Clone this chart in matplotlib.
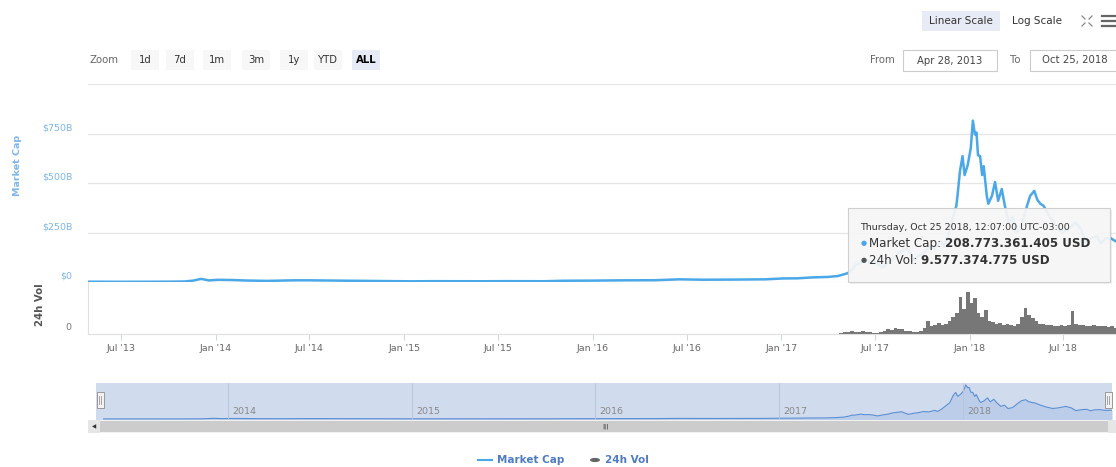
import numpy as np
import pandas as pd
import matplotlib
matplotlib.use('Agg')
import matplotlib.pyplot as plt
import matplotlib.dates as mdates
import matplotlib.transforms as mtransforms
from matplotlib.patches import Rectangle, Circle
from matplotlib.lines import Line2D

plt.rcParams['font.family'] = ['DejaVu Sans']

W, H = 1116, 467

# total crypto market cap, billions of USD
cap_dates = ['2013-04-28', '2013-06-01', '2013-07-05', '2013-08-15', '2013-10-01',
             '2013-11-01', '2013-11-18', '2013-11-30', '2013-12-04', '2013-12-18',
             '2014-01-05', '2014-02-01', '2014-03-01', '2014-04-10', '2014-06-01',
             '2014-07-01', '2014-09-01', '2014-11-01', '2015-01-14', '2015-03-01',
             '2015-06-01', '2015-07-15', '2015-10-01', '2015-11-05', '2016-01-01',
             '2016-03-01', '2016-05-01', '2016-06-17', '2016-08-01', '2016-10-01',
             '2016-12-01', '2017-01-05', '2017-02-01', '2017-03-01', '2017-04-01',
             '2017-04-20', '2017-05-01', '2017-05-10', '2017-05-20', '2017-05-25',
             '2017-06-01', '2017-06-12', '2017-06-20', '2017-07-01', '2017-07-16',
             '2017-07-25', '2017-08-05', '2017-08-15', '2017-09-01', '2017-09-15',
             '2017-09-25', '2017-10-05', '2017-10-15', '2017-10-25', '2017-11-07',
             '2017-11-12', '2017-11-20', '2017-11-29', '2017-12-01', '2017-12-06',
             '2017-12-08', '2017-12-13', '2017-12-18', '2017-12-22', '2017-12-28',
             '2018-01-03', '2018-01-07', '2018-01-11', '2018-01-14', '2018-01-17',
             '2018-01-21', '2018-01-25', '2018-01-28', '2018-02-03', '2018-02-06',
             '2018-02-13', '2018-02-19', '2018-02-25', '2018-03-04', '2018-03-10',
             '2018-03-18', '2018-03-25', '2018-04-01', '2018-04-10', '2018-04-22',
             '2018-04-28', '2018-05-06', '2018-05-12', '2018-05-18', '2018-05-24',
             '2018-06-05', '2018-06-15', '2018-06-29', '2018-07-10', '2018-07-25',
             '2018-08-05', '2018-08-14', '2018-08-27', '2018-09-05', '2018-09-12',
             '2018-09-21', '2018-10-01', '2018-10-11', '2018-10-25']
cap_values = [1.6, 1.3, 1.1, 1.3, 1.7,
              2.6, 7, 14, 15.5, 8,
              11, 10, 7.5, 5.5, 8.5,
              8.5, 6.8, 5.3, 3.5, 4.2,
              3.7, 4.3, 3.9, 6.3, 7.0,
              8.4, 9.0, 13.5, 11.5, 12.2,
              13.5, 18, 18.5, 23, 25.5,
              30, 38, 45, 68, 90,
              92, 115, 102, 104, 72,
              95, 115, 145, 172, 110,
              135, 150, 178, 168, 205,
              178, 235, 320, 340, 385,
              430, 560, 636, 540, 590,
              677, 815, 745, 755, 640,
              636, 540, 585, 435, 395,
              435, 505, 410, 470, 385,
              300, 330, 250, 270, 385,
              435, 460, 415, 395, 385,
              330, 290, 250, 265, 300,
              265, 200, 225, 230, 195,
              220, 222, 205, 208.773361405]

# 24h volume, billions of USD, one value per week (Thursdays)
vol_start, vol_end = '2017-04-27', '2018-10-25'
vol_values = [2.5, 3, 3.5, 5, 4, 3.5, 4.5, 4, 3, 2.5,
              2.5, 4, 5, 8, 7, 10, 9, 8, 5, 4.5,
              4, 4, 5, 10, 22, 14, 15, 19, 16, 18,
              22, 30, 36, 64, 43, 73, 53, 62, 36, 30,
              42, 22, 20, 17, 19, 16, 17, 15, 14, 18,
              30, 45, 33, 28, 22, 18, 17, 16, 15, 14,
              14, 15, 14, 16, 40, 18, 15, 16, 13, 14,
              15, 14, 13, 14, 12, 13, 11, 10, 9.577374775]

x_tick_dates = ['2013-07-01', '2014-01-01', '2014-07-01', '2015-01-01', '2015-07-01',
                '2016-01-01', '2016-07-01', '2017-01-01', '2017-07-01', '2018-01-01',
                '2018-07-01']
x_tick_labels = ["Jul '13", "Jan '14", "Jul '14", "Jan '15", "Jul '15", "Jan '16",
                 "Jul '16", "Jan '17", "Jul '17", "Jan '18", "Jul '18"]
cap_ticks = [0, 250, 500, 750]
cap_tick_labels = ['$0', '$250B', '$500B', '$750B']
nav_years = ['2014', '2015', '2016', '2017', '2018']
zoom_buttons = ['1d', '7d', '1m', '3m', '1y', 'YTD', 'ALL']
zoom_centers = [145, 180, 217, 256, 294, 328, 366]

BLUE = '#4aa8e8'
LABEL_BLUE = '#7cb5ec'


def fx(x):
    return x / W


def fy(y):
    return 1 - y / H


def box(x0, y0, x1, y1):
    return [fx(x0), fy(y1), fx(x1) - fx(x0), fy(y0) - fy(y1)]


def rect(x0, y0, x1, y1, **kw):
    r = Rectangle((fx(x0), fy(y1)), fx(x1) - fx(x0), fy(y0) - fy(y1),
                  transform=fig.transFigure, **kw)
    fig.add_artist(r)
    return r


def text(x, y, s, **kw):
    kw.setdefault('ha', 'center')
    kw.setdefault('va', 'center')
    return fig.text(fx(x), fy(y), s, **kw)


cap_x = mdates.date2num(pd.to_datetime(cap_dates))
vol_x = mdates.date2num(pd.date_range(vol_start, vol_end, freq='7D'))
t0 = mdates.date2num(pd.Timestamp('2013-04-28'))
t1 = mdates.date2num(pd.Timestamp('2018-10-25'))

fig = plt.figure(figsize=(W / 100, H / 100), dpi=100)
fig.patch.set_facecolor('white')

# --- market cap panel ---
ax = fig.add_axes(box(88, 84, 1123, 282))
ax.plot(cap_x, cap_values, color=BLUE, lw=1.8, solid_joinstyle='round', zorder=3)
ax.set_xlim(t0, t1)
ax.set_ylim(0, 1000)
ax.set_yticks([0, 250, 500, 750, 1000])
ax.grid(axis='y', color='#e6e6e6', lw=0.9)
ax.tick_params(left=False, bottom=False, labelleft=False, labelbottom=False)
for s in ax.spines.values():
    s.set_visible(False)
ylab = mtransforms.blended_transform_factory(ax.transAxes, ax.transData)
for v, lab in zip(cap_ticks, cap_tick_labels):
    ax.annotate(lab, xy=(0, v), xycoords=ylab, xytext=(-11, 4), textcoords='offset points',
                ha='right', va='center', fontsize=6.8, color=LABEL_BLUE, annotation_clip=False)
text(17, 165, 'Market Cap', rotation=90, fontsize=6.8, color=LABEL_BLUE, fontweight='bold')

# --- volume panel ---
axv = fig.add_axes(box(88, 282, 1123, 334))
axv.bar(vol_x, vol_values, width=7, color='#777777', lw=0)
axv.set_xlim(t0, t1)
axv.set_ylim(0, 90)
axv.set_yticks([])
axv.set_facecolor('none')
for k, s in axv.spines.items():
    s.set_visible(k in ('left', 'bottom'))
    s.set_color('#e0e0e0')
    s.set_linewidth(0.8)
axv.set_xticks(mdates.date2num(pd.to_datetime(x_tick_dates)))
axv.set_xticklabels(x_tick_labels)
axv.tick_params(axis='x', length=4.5, width=0.7, color='#ccd6eb', labelsize=6.8,
                labelcolor='#666666', pad=3)
text(68, 328, '0', fontsize=6.8, color='#777777')
text(40, 305, '24h Vol', rotation=90, fontsize=7.3, color='#555555', fontweight='bold')

# --- navigator ---
axn = fig.add_axes(box(96, 383, 1112, 420))
axn.set_facecolor('#d1dbee')
axn.fill_between(cap_x, cap_values, -30, color='#bccde9', lw=0)
axn.plot(cap_x, cap_values, color='#5b8fd2', lw=0.8)
axn.set_xlim(t0 - 15, t1)
axn.set_ylim(-25, 860)
axn.set_xticks([])
axn.set_yticks([])
for s in axn.spines.values():
    s.set_visible(False)
for yr in nav_years:
    xd = mdates.date2num(pd.Timestamp(yr + '-01-01'))
    axn.axvline(xd, color='#bac4da', lw=0.7)
    axn.annotate(yr, xy=(xd, 0.22), xycoords=('data', 'axes fraction'), xytext=(3, 0),
                 textcoords='offset points', ha='left', va='center', fontsize=6.8,
                 color='#888888')

# navigator handles
for hx in (100, 1108):
    rect(hx - 3.5, 392, hx + 3.5, 408, facecolor='#f2f2f2', edgecolor='#999999', lw=0.7, zorder=6)
    for dx in (-1, 1):
        fig.add_artist(Line2D([fx(hx + dx)] * 2, [fy(396), fy(404)], transform=fig.transFigure,
                              color='#999999', lw=0.6, zorder=7))

# scrollbar
rect(88, 420, 1116, 433, facecolor='#f2f2f2', lw=0, zorder=5)
rect(100, 421, 1108, 432, facecolor='#cccccc', lw=0, zorder=5)
rect(88, 420, 100, 433, facecolor='#e6e6e6', lw=0, zorder=5)
rect(1108, 420, 1116, 433, facecolor='#e6e6e6', lw=0, zorder=5)
text(94, 426.5, '\u25c0', fontsize=4, color='#333333', zorder=6)
text(605, 426.5, '|||', fontsize=4.5, color='#333333', zorder=6)

# --- legend ---
fig.add_artist(Line2D([fx(478), fx(492)], [fy(460)] * 2, transform=fig.transFigure,
                      color=BLUE, lw=1.5))
text(497, 460, 'Market Cap', ha='left', fontsize=7.5, color='#4f7cc0', fontweight='bold')
fig.add_artist(Circle((fx(595), fy(460)), 5 / W, transform=fig.transFigure,
                      facecolor='#666666', lw=0))
text(605, 460, '24h Vol', ha='left', fontsize=7.5, color='#4f7cc0', fontweight='bold')

# --- top controls ---
rect(922, 11, 1000, 31, facecolor='#e6ebf5', lw=0)
text(961, 21, 'Linear Scale', fontsize=7.5, color='#333333')
text(1037, 21, 'Log Scale', fontsize=7.5, color='#333333')
cx, cy = 1087, 21
for sx, sy in ((-1, -1), (1, -1), (-1, 1), (1, 1)):
    fig.add_artist(Line2D([fx(cx + sx * 2), fx(cx + sx * 5)], [fy(cy + sy * 2), fy(cy + sy * 5)],
                          transform=fig.transFigure, color='#888888', lw=0.9))
for hy in (16, 21, 26):
    fig.add_artist(Line2D([fx(1102), fx(1116)], [fy(hy)] * 2, transform=fig.transFigure,
                          color='#666666', lw=1.6))

text(90, 60, 'Zoom', ha='left', fontsize=7.3, color='#666666')
for lab, c in zip(zoom_buttons, zoom_centers):
    active = lab == 'ALL'
    rect(c - 14, 50, c + 14, 70, facecolor='#e6ebf5' if active else '#f7f7f7', lw=0)
    text(c, 60, lab, fontsize=7.3, color='#000000' if active else '#333333',
         fontweight='bold' if active else 'normal')

text(895, 60, 'From', ha='right', fontsize=7.3, color='#666666')
rect(903, 50, 997, 71, facecolor='white', edgecolor='#cccccc', lw=0.8)
text(950, 60.5, 'Apr 28, 2013', fontsize=7.3, color='#444444')
text(1015, 60, 'To', fontsize=7.3, color='#666666')
rect(1030, 50, 1130, 71, facecolor='white', edgecolor='#cccccc', lw=0.8)
text(1075, 60.5, 'Oct 25, 2018', fontsize=7.3, color='#444444')

# --- tooltip for the last point ---
rect(850, 210, 1112, 284, facecolor=(0, 0, 0, 0.06), lw=0, zorder=9)
rect(848, 208, 1110, 282, facecolor=(0.97, 0.97, 0.97, 0.93), edgecolor='#cfcfcf', lw=0.8, zorder=10)
text(860, 228, 'Thursday, Oct 25 2018, 12:07:00 UTC-03:00', ha='left', fontsize=6.8,
     color='#333333', zorder=11)

fig.canvas.draw()
renderer = fig.canvas.get_renderer()
rows = [(243, BLUE, 'Market Cap: ', '%s USD' % '208.773.361.405'),
        (260, '#555555', '24h Vol: ', '%s USD' % '9.577.374.775')]
for ry, col, head, val in rows:
    text(864, ry, '\u25cf', fontsize=5, color=col, zorder=11)
    t = text(869, ry, head, ha='left', fontsize=8.6, color='#333333', zorder=11)
    bb = t.get_window_extent(renderer)
    fig.text(bb.x1 / W, fy(ry), val, ha='left', va='center', fontsize=8.6,
             color='#333333', fontweight='bold', zorder=11)

fig.savefig('out.png', dpi=100, facecolor='white')
